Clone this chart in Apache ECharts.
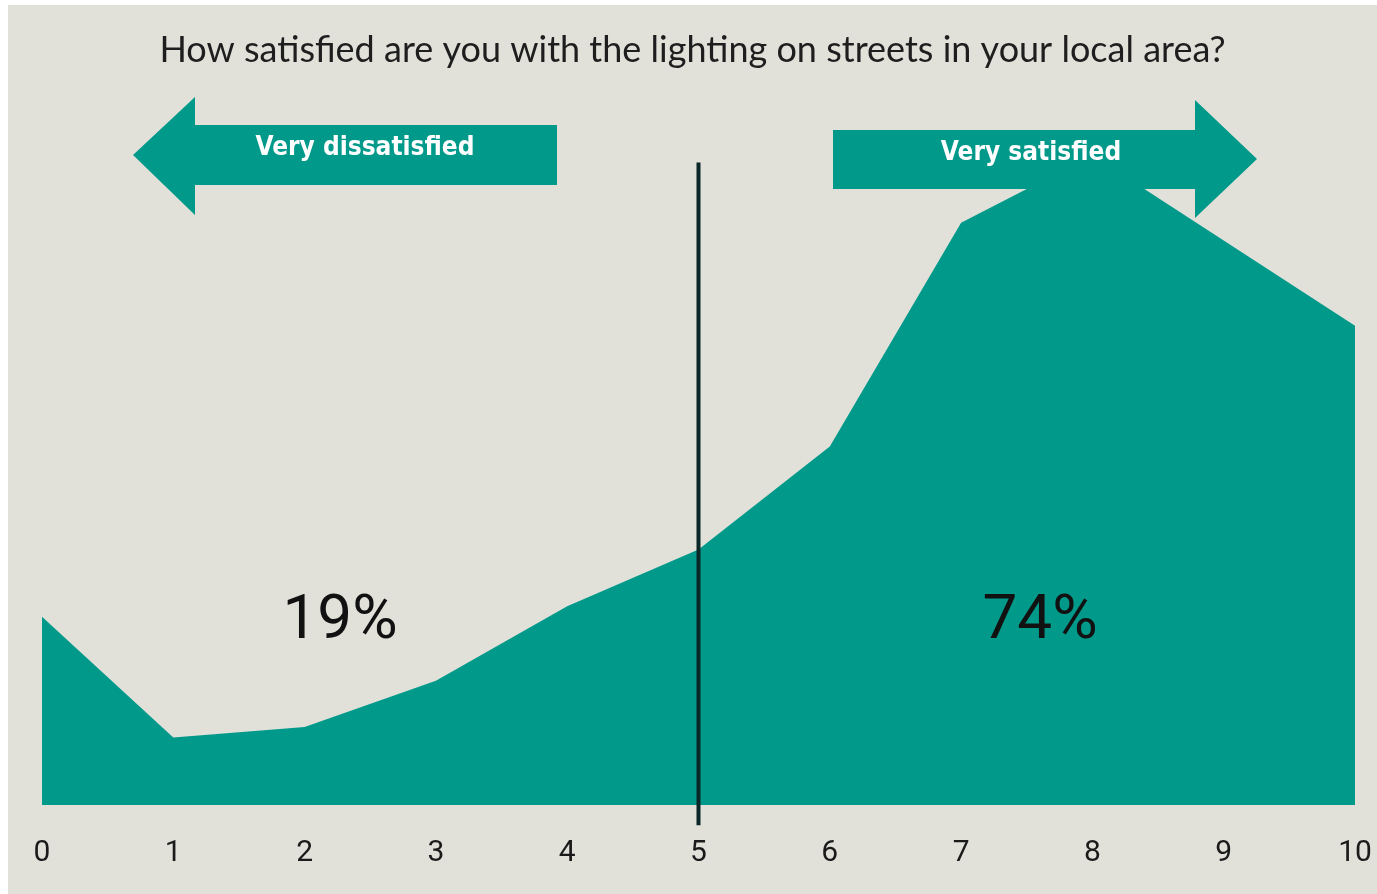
<!DOCTYPE html>
<html><head><meta charset="utf-8">
<script src="https://cdn.jsdelivr.net/npm/echarts@6/dist/echarts.min.js"></script>
<style>
html,body{margin:0;padding:0;background:#ffffff;width:1377px;height:894px;overflow:hidden;}
#c{position:absolute;left:8px;top:5px;width:1369px;height:889px;}
</style></head>
<body><div id="c"></div>
<script>
const categories = ['0','1','2','3','4','5','6','7','8','9','10'];
const shares = [5.3, 1.9, 2.2, 3.5, 5.6, 7.2, 10.1, 16.4, 18.3, 15.9, 13.5];
const titleText = 'How satisfied are you with the lighting on streets in your local area?';
const leftLabel = 'Very dissatisfied';
const rightLabel = 'Very satisfied';
const leftShare = '19%';
const rightShare = '74%';
const midpoint = '5';
const dividerSpan = [18.1, -0.57];

const teal = '#00998a';
const chart = echarts.init(document.getElementById('c'));
chart.setOption({
  backgroundColor: '#e1e1da',
  animation: false,
  title: {
    text: titleText, left: 'center', top: 22,
    textStyle: {fontFamily: 'Lato', fontWeight: 'normal', fontSize: 36, color: '#1e1e1e'}
  },
  grid: {left: 34, right: 22, top: 90, bottom: 89},
  xAxis: {
    type: 'category', data: categories, boundaryGap: false,
    axisLine: {show: false}, axisTick: {show: false}, splitLine: {show: false},
    axisLabel: {margin: 33, fontFamily: 'Roboto', fontWeight: 'normal', fontSize: 30, color: '#1a1a1a'}
  },
  yAxis: {
    type: 'value', min: 0, max: 20, show: false, splitLine: {show: false}
  },
  series: [{
    type: 'line', data: shares, symbol: 'none',
    lineStyle: {width: 0, color: teal},
    areaStyle: {color: teal, opacity: 1},
    z: 2
  }, {
    type: 'line', clip: false, symbol: 'none', silent: true, z: 5,
    data: dividerSpan.map(v => [midpoint, v]),
    lineStyle: {color: '#0a2626', width: 4}
  }],
  graphic: [
    {type: 'polygon', z: 1, shape: {points: [[125,150],[187,92],[187,120],[549,120],[549,180],[187,180],[187,210]]}, style: {fill: teal}},
    {type: 'polygon', z: 1, shape: {points: [[825,125],[1187,125],[1187,95],[1249,154],[1187,213],[1187,184],[825,184]]}, style: {fill: teal}},
    {type: 'text', z: 10, x: 357, y: 143, style: {text: leftLabel, fill: '#ffffff', font: 'bold 26px "DejaVu Sans Condensed"', align: 'center', verticalAlign: 'middle'}},
    {type: 'text', z: 10, x: 1023, y: 148, style: {text: rightLabel, fill: '#ffffff', font: 'bold 26px "DejaVu Sans Condensed"', align: 'center', verticalAlign: 'middle'}},
    {type: 'text', z: 10, x: 332, y: 617, style: {text: leftShare, fill: '#111111', font: '62px Roboto', align: 'center', verticalAlign: 'middle'}},
    {type: 'text', z: 10, x: 1032, y: 617, style: {text: rightShare, fill: '#111111', font: '62px Roboto', align: 'center', verticalAlign: 'middle'}}
  ]
});
</script></body></html>
